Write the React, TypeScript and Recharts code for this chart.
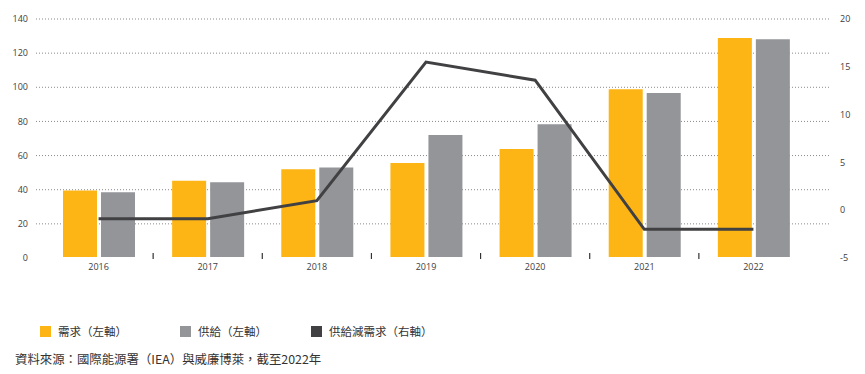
import { Bar, CartesianGrid, ComposedChart, Line, XAxis, YAxis } from "recharts";

const years = ["2016", "2017", "2018", "2019", "2020", "2021", "2022"];
const demand = [39.5, 45.3, 52, 55.7, 63.9, 98.9, 128.9];
const supply = [38.5, 44.4, 53, 72.1, 78.4, 96.6, 128.1];
const surplus = [-0.9, -0.9, 1, 15.5, 13.6, -2, -2];

const leftTicks = [0, 20, 40, 60, 80, 100, 120, 140];
const rightTicks = [-5, 0, 5, 10, 15, 20];

const legendLabels = ["需求（左軸）", "供給（左軸）", "供給減需求（右軸）"];
const sourceNote = "資料來源：國際能源署（IEA）與威廉博萊，截至2022年";

const YELLOW = "#FDB515";
const GREY = "#939598";
const DARK = "#414042";
const TEXT = "#404040";
const PAD_L = 8;
const PAD_R = 22;

const data = years.map((year, i) => ({
  year,
  demand: demand[i],
  supply: supply[i],
  surplus: surplus[i],
}));

function YearTick(props: any) {
  const { x, y, payload, index, width } = props;
  const half =
    payload && payload.offset > 0
      ? payload.offset
      : (width - PAD_L - PAD_R) / years.length / 2;
  return (
    <g>
      <text x={x} y={y} dy="0.71em" textAnchor="middle" fill={TEXT} fontSize={9}>
        {payload.value}
      </text>
      {index < years.length - 1 ? (
        <line x1={x + half} x2={x + half} y1={y - 11} y2={y - 5} stroke="#333" strokeWidth={1.2} />
      ) : null}
    </g>
  );
}

const legendColors = [YELLOW, GREY, DARK];
const legendLeft = [40, 180, 311];

export default function App() {
  return (
    <div
      style={{
        position: "absolute",
        left: 0,
        top: 0,
        width: 865,
        height: 374,
        background: "#fff",
        fontFamily: "'Open Sans', 'Noto Sans', sans-serif",
      }}
    >
      <ComposedChart
        width={865}
        height={300}
        data={data}
        margin={{ top: 19, right: 0, bottom: 0, left: 0 }}
        barGap={4}
      >
        <CartesianGrid yAxisId="left" vertical={false} stroke="#8a8a8a" strokeDasharray="1 2" />
        <XAxis
          dataKey="year"
          height={42}
          axisLine={{ stroke: "#fff", strokeWidth: 2 }}
          tickLine={false}
          tickSize={0}
          tickMargin={6}
          padding={{ left: PAD_L, right: PAD_R }}
          interval={0}
          tick={<YearTick />}
        />
        <YAxis
          yAxisId="left"
          width={36}
          domain={[0, 140]}
          ticks={leftTicks}
          axisLine={false}
          tickLine={false}
          tick={{ fontSize: 9, fill: TEXT }}
        />
        <YAxis
          yAxisId="right"
          orientation="right"
          width={35}
          domain={[-5, 20]}
          ticks={rightTicks}
          axisLine={false}
          tickLine={false}
          tickMargin={4}
          tick={{ fontSize: 9, fill: TEXT, textAnchor: "start" }}
        />
        <Bar yAxisId="left" dataKey="demand" fill={YELLOW} barSize={34} isAnimationActive={false} />
        <Bar yAxisId="left" dataKey="supply" fill={GREY} barSize={34} isAnimationActive={false} />
        <Line
          yAxisId="right"
          type="linear"
          dataKey="surplus"
          stroke={DARK}
          strokeWidth={3}
          dot={false}
          isAnimationActive={false}
        />
      </ComposedChart>
      {legendLabels.map((label, i) => (
        <div
          key={label}
          style={{
            position: "absolute",
            left: legendLeft[i],
            top: 323,
            display: "flex",
            alignItems: "center",
            gap: 7,
            fontFamily: "'Noto Sans CJK TC', sans-serif",
            fontSize: 11.5,
            color: "#333",
            whiteSpace: "nowrap",
          }}
        >
          <span style={{ display: "inline-block", width: 11, height: 11, background: legendColors[i] }} />
          <span>{label}</span>
        </div>
      ))}
      <div
        style={{
          position: "absolute",
          left: 15,
          top: 350,
          fontFamily: "'Noto Sans CJK TC', sans-serif",
          fontSize: 12.4,
          color: "#333",
          whiteSpace: "nowrap",
        }}
      >
        {sourceNote}
      </div>
    </div>
  );
}
